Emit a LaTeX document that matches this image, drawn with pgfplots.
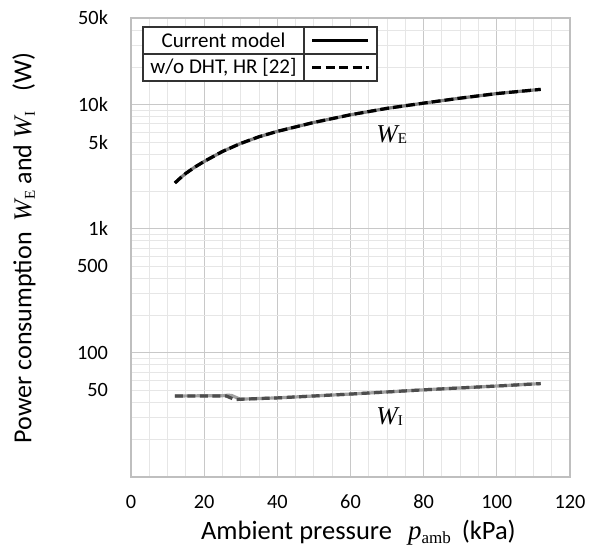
\documentclass[border=0pt]{standalone}
\usepackage{fontspec}
\setmainfont{Carlito}
\newfontfamily\tnr{Liberation Serif}
\usepackage{pgfplots}
\pgfplotsset{compat=1.18}
\definecolor{majgrid}{HTML}{C8C8C8}
\definecolor{mingrid}{HTML}{E6E6E6}
\definecolor{framec}{HTML}{BFBFBF}
\definecolor{solidE}{HTML}{808080}
\definecolor{solidI}{HTML}{A0A0A0}
\definecolor{dashI}{HTML}{4D4D4D}
\newcommand\Wx[1]{{\tnr\fontsize{25.7bp}{30bp}\selectfont\itshape W}\kern0.02em\raisebox{-0.28ex}{\tnr\fontsize{15bp}{15bp}\selectfont #1}}
\newcommand\pamb{{\tnr\fontsize{27bp}{30bp}\selectfont\itshape p}\raisebox{-0.28ex}{\tnr\fontsize{17bp}{15bp}\selectfont amb}}
\begin{document}
\begin{tikzpicture}
\path[use as bounding box] (-131bp,-74bp) rectangle (463bp,477bp);
\begin{axis}[
  at={(0,0)}, anchor=south west,
  scale only axis, width=439bp, height=459bp,
  ymode=log, xmin=0, xmax=120, ymin=10, ymax=50000,
  xtick={0,20,...,120}, minor x tick num=3,
  ytick={10,100,1000,10000},
  yticklabels={,100,1k,10k},
  extra y ticks={50,500,5000,50000},
  extra y tick labels={50,500,5k,50k},
  extra y tick style={grid=none},
  minor ytick={20,30,40,50,60,70,80,90,200,300,400,500,600,700,800,900,2000,3000,4000,5000,6000,7000,8000,9000,20000,30000,40000},
  grid=both,
  major grid style={draw=majgrid, line width=1.1bp},
  minor grid style={draw=mingrid, line width=1bp},
  major tick length=0pt, minor tick length=0pt,
  axis line style={draw=framec, line width=1.1bp},
  /pgf/number format/assume math mode=true,
  tick label style={font=\fontsize{20.3bp}{23bp}\selectfont},
  xticklabel style={yshift=-14.5bp},
  yticklabel style={xshift=-19.5bp},
  xlabel={Ambient pressure\hspace{16bp}\pamb\hspace{11bp}(kPa)},
  ylabel={Power consumption\hspace{11bp}\Wx{E} and \Wx{I}\hspace{20bp}(W)},
  xlabel style={font=\fontsize{26.5bp}{30bp}\selectfont, at={(axis description cs:0.518,-0.122)}, anchor=center},
  ylabel style={font=\fontsize{26bp}{30bp}\selectfont, at={(axis description cs:-0.244,0.499)}, anchor=center},
]
% W_E, current model (solid)
\addplot[solidE, line width=3.2bp] coordinates {
(12,2340) (13.5,2570) (15,2800) (17.5,3150) (20,3490) (25,4200) (30,4880) (35,5520) (40,6100) (50,7200) (60,8300) (70,9350) (80,10300) (90,11300) (100,12300) (112,13300)};
% W_E, w/o DHT, HR (dashed)
\addplot[black, line width=3.2bp, dash pattern=on 9bp off 4bp] coordinates {
(12,2340) (13.5,2570) (15,2800) (17.5,3150) (20,3490) (25,4200) (30,4880) (35,5520) (40,6100) (50,7200) (60,8300) (70,9350) (80,10300) (90,11300) (100,12300) (112,13300)};
% W_I, current model (solid)
\addplot[solidI, line width=3.2bp] coordinates {
(12,45) (20,45.1) (25,45.2) (26.5,45.6) (27.5,45.4) (29.8,42.4) (40,43.4) (60,46.6) (80,50.4) (100,54.1) (112,56.6)};
% W_I, w/o DHT, HR (dashed)
\addplot[dashI, line width=3.2bp, dash pattern=on 8bp off 4.5bp] coordinates {
(12,45) (26,45) (28.4,42) (29.8,42.3) (40,43.4) (60,46.6) (80,50.4) (100,54.1) (112,56.6)};
\node[anchor=west, inner sep=0pt] at (axis cs:67,5730) {\Wx{E}};
\node[anchor=west, inner sep=0pt] at (axis cs:67,30.5) {\Wx{I}};
\end{axis}
% legend box
\begin{scope}[font=\fontsize{21bp}{24bp}\selectfont]
\draw[fill=white, draw=black!80, line width=1.2bp] (12bp,396bp) rectangle (246bp,450bp);
\draw[black!80, line width=1.2bp] (12bp,423bp) -- (246bp,423bp);
\draw[black!80, line width=1.2bp] (173bp,396bp) -- (173bp,450bp);
\node at (92.5bp,436.5bp) {Current model};
\node at (92.5bp,409.5bp) {w/o DHT, HR [22]};
\draw[black, line width=3.2bp] (181bp,436.3bp) -- (237bp,436.3bp);
\draw[black, line width=3.2bp, dash pattern=on 9bp off 4.5bp] (181bp,409.7bp) -- (238bp,409.7bp);
\end{scope}
\end{tikzpicture}
\end{document}
